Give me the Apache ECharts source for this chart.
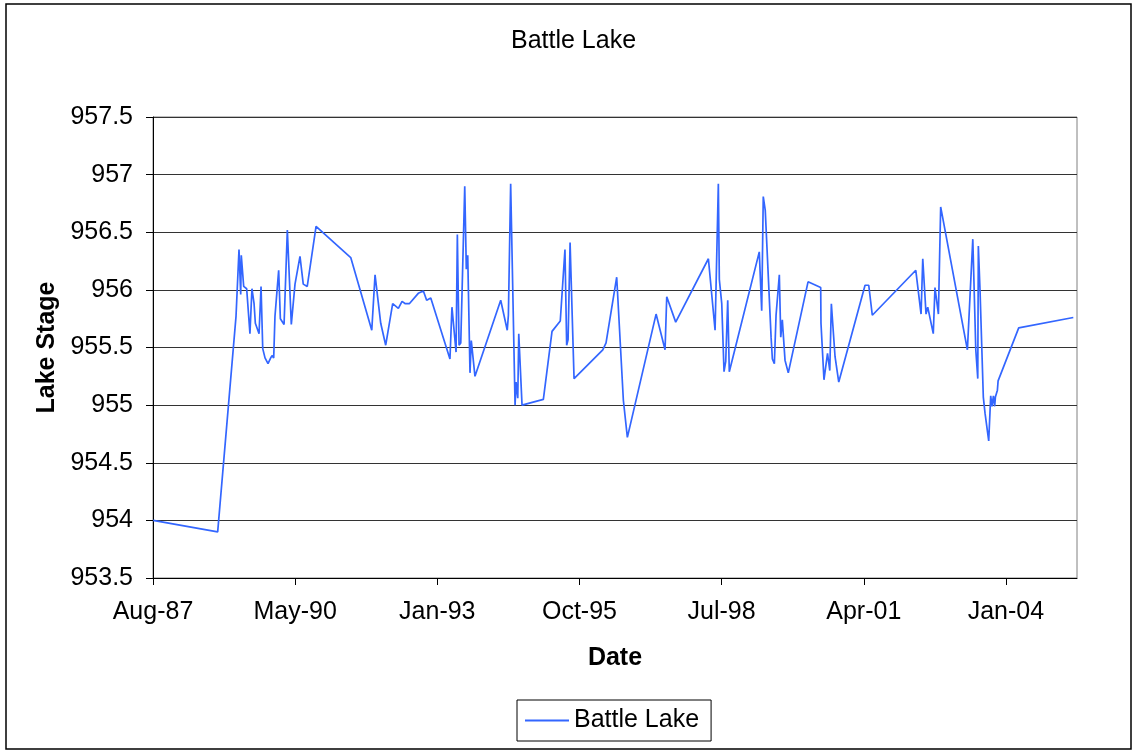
<!DOCTYPE html>
<html>
<head>
<meta charset="utf-8">
<title>Battle Lake</title>
<script src="https://cdn.jsdelivr.net/npm/echarts@6/dist/echarts.min.js"></script>
<style>
  html, body { margin: 0; padding: 0; background: #fff; }
  #chart { width: 1134px; height: 751px; }
</style>
</head>
<body>
<div id="chart"></div>
<script>
// Survey dates of lake stage readings
const sampleDates = [
  '1987-08-12', '1988-11-08', '1989-03-17', '1989-04-07', '1989-04-19', '1989-04-23',
  '1989-05-10', '1989-05-31', '1989-06-23', '1989-07-07', '1989-07-22', '1989-07-31',
  '1989-08-26', '1989-09-09', '1989-09-21', '1989-10-07', '1989-10-28', '1989-11-16',
  '1989-11-25', '1989-12-07', '1989-12-16', '1990-01-11', '1990-01-23', '1990-02-06',
  '1990-02-18', '1990-03-13', '1990-04-10', '1990-05-06', '1990-06-10', '1990-07-03',
  '1990-07-31', '1990-10-01', '1991-06-02', '1991-10-28', '1991-11-20', '1991-12-30',
  '1992-02-03', '1992-03-23', '1992-05-02', '1992-05-28', '1992-06-20', '1992-07-18',
  '1992-09-19', '1992-10-25', '1992-11-17', '1992-12-16', '1993-04-30', '1993-05-14',
  '1993-06-12', '1993-06-21', '1993-07-03', '1993-07-15', '1993-08-12', '1993-08-23',
  '1993-09-02', '1993-09-18', '1993-09-27', '1993-10-07', '1993-10-23', '1994-04-22',
  '1994-06-07', '1994-06-15', '1994-07-01', '1994-08-01', '1994-08-08', '1994-08-20',
  '1994-08-27', '1994-09-19', '1995-02-16', '1995-04-18', '1995-06-15', '1995-06-27',
  '1995-07-18', '1995-07-30', '1995-08-09', '1995-08-23', '1995-09-20', '1996-04-09',
  '1996-05-02', '1996-07-16', '1996-09-01', '1996-09-29', '1997-04-19', '1997-06-21',
  '1997-07-03', '1997-09-04', '1998-04-22', '1998-06-08', '1998-06-20', '1998-07-01',
  '1998-07-08', '1998-07-25', '1998-08-10', '1998-08-22', '1998-09-05', '1998-09-16',
  '1999-04-15', '1999-05-02', '1999-05-13', '1999-05-27', '1999-07-07', '1999-07-16',
  '1999-07-30', '1999-08-11', '1999-08-25', '1999-09-03', '1999-09-13', '1999-09-24',
  '1999-10-13', '1999-11-05', '2000-03-23', '2000-06-20', '2000-06-22', '2000-07-13',
  '2000-08-07', '2000-08-23', '2000-09-03', '2000-09-29', '2000-10-25', '2001-04-28',
  '2001-05-24', '2001-06-18', '2002-04-20', '2002-05-27', '2002-06-08', '2002-07-01',
  '2002-07-13', '2002-08-21', '2002-09-02', '2002-09-26', '2002-10-12', '2003-04-18',
  '2003-05-26', '2003-06-16', '2003-06-30', '2003-07-04', '2003-07-16', '2003-08-08',
  '2003-08-20', '2003-09-15', '2003-09-29', '2003-10-08', '2003-10-18', '2003-10-27',
  '2003-11-01', '2003-11-15', '2003-11-20', '2004-04-13', '2005-05-02'
];

// Lake stage (ft) for each survey date
const lakeStage = [
  954.00, 953.90, 955.77, 956.35, 955.96, 956.30,
  956.03, 956.01, 955.62, 956.01, 955.88, 955.71,
  955.62, 956.03, 955.49, 955.41, 955.36, 955.41,
  955.43, 955.41, 955.77, 956.17, 955.75, 955.74,
  955.70, 956.52, 955.70, 956.05, 956.29, 956.05,
  956.03, 956.55, 956.28, 955.65, 956.13, 955.71,
  955.52, 955.88, 955.84, 955.90, 955.88, 955.88,
  955.97, 955.99, 955.91, 955.93, 955.40, 955.85,
  955.46, 956.48, 955.52, 955.54, 956.90, 956.18,
  956.30, 955.28, 955.56, 955.56, 955.25, 955.91,
  955.65, 955.78, 956.92, 955.00, 955.20, 955.06,
  955.62, 955.00, 955.05, 955.64, 955.73, 955.73,
  956.35, 955.52, 955.57, 956.41, 955.23, 955.48,
  955.54, 956.11, 955.04, 954.72, 955.79, 955.48,
  955.94, 955.72, 956.27, 955.65, 955.65, 956.92,
  956.09, 955.88, 955.29, 955.38, 955.91, 955.29,
  956.33, 955.82, 956.81, 956.69, 955.59, 955.40,
  955.36, 955.78, 955.78, 956.13, 955.59, 955.74,
  955.39, 955.28, 956.07, 956.02, 955.71, 955.22,
  955.45, 955.30, 955.88, 955.42, 955.20, 956.04,
  956.04, 955.78, 956.17, 955.79, 956.27, 955.79,
  955.85, 955.62, 956.02, 955.79, 956.72, 955.48,
  956.44, 955.48, 955.23, 956.38, 955.99, 955.07,
  954.93, 954.69, 955.08, 954.99, 955.08, 954.99,
  955.07, 955.13, 955.21, 955.67, 955.76
];

const seriesName = 'Battle Lake';
const monthNames = ['Jan', 'Feb', 'Mar', 'Apr', 'May', 'Jun',
                    'Jul', 'Aug', 'Sep', 'Oct', 'Nov', 'Dec'];

// Spreadsheet-style day serial (days since 1899-12-30)
const DAY_MS = 86400000;
const SERIAL_OFFSET = 25569;
function toSerial(iso) {
  const [y, m, d] = iso.split('-').map(Number);
  return Date.UTC(y, m - 1, d) / DAY_MS + SERIAL_OFFSET;
}
function serialLabel(v) {
  const dt = new Date((v - SERIAL_OFFSET) * DAY_MS);
  const yy = String(dt.getUTCFullYear() % 100).padStart(2, '0');
  return monthNames[dt.getUTCMonth()] + '-' + yy;
}

const points = sampleDates.map((d, i) => [toSerial(d), lakeStage[i]]);

const FONT = '"Liberation Sans", Arial, sans-serif';
const FONT_SIZE = 25;
const chart = echarts.init(document.getElementById('chart'), null, { renderer: 'canvas' });

chart.setOption({
  backgroundColor: '#ffffff',
  animation: false,
  textStyle: { fontFamily: FONT },
  title: {
    text: 'Battle Lake',
    left: 511,
    top: 29,
    padding: 0,
    textStyle: { fontFamily: FONT, fontSize: FONT_SIZE, fontWeight: 'normal', color: '#000' }
  },
  legend: {
    data: [{ name: seriesName, icon: 'rect' }],
    left: 517,
    top: 700,
    padding: [8, 12, 8, 8],
    itemWidth: 44,
    itemHeight: 2,
    borderColor: '#000',
    borderWidth: 1,
    textStyle: { fontFamily: FONT, fontSize: FONT_SIZE, color: '#000' }
  },
  grid: {
    left: 153,
    top: 117,
    width: 924,
    height: 461,
    show: true,
    borderColor: '#808080',
    borderWidth: 1,
    backgroundColor: 'transparent'
  },
  xAxis: {
    type: 'value',
    min: 32000,
    max: 38500,
    interval: 1000,
    name: 'Date',
    nameLocation: 'middle',
    nameGap: 68,
    nameTextStyle: { fontFamily: FONT, fontSize: FONT_SIZE, fontWeight: 'bold', color: '#000' },
    axisLine: { show: true, onZero: false, lineStyle: { color: '#000', width: 1 } },
    axisTick: { show: true, inside: false, length: 7, lineStyle: { color: '#000' } },
    axisLabel: {
      margin: 22,
      fontFamily: FONT,
      fontSize: FONT_SIZE,
      color: '#000',
      showMaxLabel: false,
      formatter: serialLabel
    },
    splitLine: { show: false }
  },
  yAxis: {
    type: 'value',
    min: 953.5,
    max: 957.5,
    interval: 0.5,
    name: 'Lake Stage',
    nameLocation: 'middle',
    nameGap: 93,
    nameTextStyle: { fontFamily: FONT, fontSize: FONT_SIZE, fontWeight: 'bold', color: '#000' },
    axisLine: { show: true, lineStyle: { color: '#000', width: 1 } },
    axisTick: { show: true, inside: false, length: 7, lineStyle: { color: '#000' } },
    axisLabel: {
      margin: 20,
      fontFamily: FONT,
      fontSize: FONT_SIZE,
      color: '#000',
      formatter: v => String(Math.round(v * 10) / 10)
    },
    splitLine: { show: true, lineStyle: { color: '#333', width: 1 } }
  },
  graphic: [{
    type: 'rect',
    shape: { x: 6, y: 4, width: 1125, height: 745 },
    style: { fill: 'none', stroke: '#000', lineWidth: 1.5 },
    silent: true,
    z: 100
  }],
  series: [{
    name: seriesName,
    type: 'line',
    data: points,
    showSymbol: false,
    symbol: 'none',
    color: '#3366ff',
    lineStyle: { color: '#3366ff', width: 1.7 },
    emphasis: { disabled: true }
  }]
});
</script>
</body>
</html>
